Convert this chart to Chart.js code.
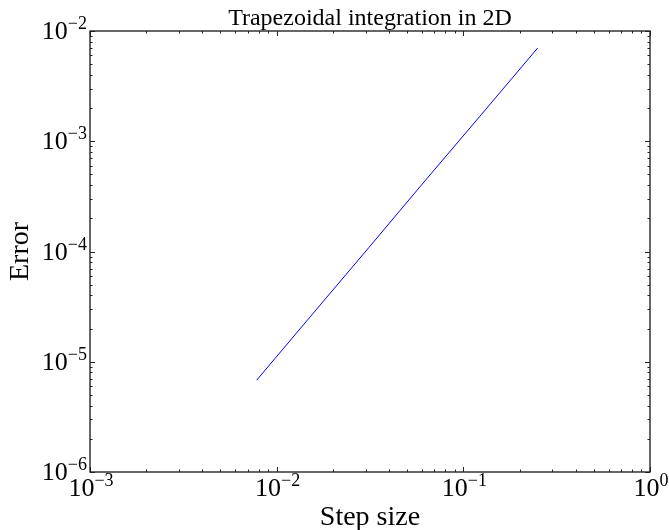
<!DOCTYPE html>
<html>
<head>
<meta charset="utf-8">
<script src="https://cdn.jsdelivr.net/npm/chart.js@4"></script>
<style>
  body { margin: 0; background: #fff; }
  canvas { display: block; }
</style>
</head>
<body>
<canvas id="errChart" width="669" height="530"></canvas>
<script>
const stepSizes = [0.25, 0.125, 0.0625, 0.03125, 0.015625, 0.0078125];
const errors = [7.0e-3, 1.75e-3, 4.4e-4, 1.09e-4, 2.73e-5, 6.8e-6];
const xTickExps = [-3, -2, -1, 0];
const yTickExps = [-6, -5, -4, -3, -2];

const serif = '"Liberation Serif", "DejaVu Serif", serif';

function powLabel(ctx, exp, x, y, align) {
    // "10" with a raised exponent; align 'center' or 'right'
    var base = '10';
    var sup = (exp < 0 ? '\u2212' : '') + Math.abs(exp);
    ctx.font = '26px ' + serif;
    var wb = ctx.measureText(base).width;
    ctx.font = '18px ' + serif;
    var ws = ctx.measureText(sup).width;
    var left = align === 'right' ? x - wb - ws : x - (wb + ws) / 2;
    ctx.textAlign = 'left';
    ctx.textBaseline = 'alphabetic';
    ctx.font = '26px ' + serif;
    ctx.fillText(base, left, y);
    ctx.font = '18px ' + serif;
    ctx.fillText(sup, left + wb, y - 10);
}

const framePlugin = {
    id: 'frame',
    afterDraw(chart) {
        var ctx = chart.ctx;
        var a = chart.chartArea;
        var xs = chart.scales.x, ys = chart.scales.y;
        ctx.save();
        ctx.strokeStyle = '#000';
        ctx.lineWidth = 1.2;
        ctx.strokeRect(a.left, a.top, a.right - a.left, a.bottom - a.top);

        // inward ticks on all four sides
        ctx.lineWidth = 1;
        ctx.strokeStyle = '#222';
        ctx.beginPath();
        for (var e = -3; e <= 0; e++) {
            for (var m = 1; m <= 9; m++) {
                var v = m * Math.pow(10, e);
                if (v > 1.0001) break;
                var px = Math.round(xs.getPixelForValue(v)) + 0.5;
                var len = m === 1 ? 5 : 2.5;
                ctx.moveTo(px, a.bottom); ctx.lineTo(px, a.bottom - len);
                ctx.moveTo(px, a.top); ctx.lineTo(px, a.top + len);
            }
        }
        for (var e = -6; e <= -2; e++) {
            for (var m = 1; m <= 9; m++) {
                var v = m * Math.pow(10, e);
                if (v > 1.0001e-2) break;
                var py = Math.round(ys.getPixelForValue(v)) + 0.5;
                var len = m === 1 ? 5 : 2.5;
                ctx.moveTo(a.left, py); ctx.lineTo(a.left + len, py);
                ctx.moveTo(a.right, py); ctx.lineTo(a.right - len, py);
            }
        }
        ctx.stroke();

        ctx.fillStyle = '#000';
        xTickExps.forEach(function (e) {
            powLabel(ctx, e, xs.getPixelForValue(Math.pow(10, e)) + 1, a.bottom + 24, 'center');
        });
        yTickExps.forEach(function (e) {
            powLabel(ctx, e, a.left - 3, ys.getPixelForValue(Math.pow(10, e)) + 8, 'right');
        });

        ctx.textAlign = 'center';
        ctx.textBaseline = 'alphabetic';
        ctx.font = '24px ' + serif;
        ctx.fillText('Trapezoidal integration in 2D', (a.left + a.right) / 2, 25);
        ctx.font = '28px ' + serif;
        ctx.fillText('Step size', (a.left + a.right) / 2, 525);
        ctx.translate(28, (a.top + a.bottom) / 2);
        ctx.rotate(-Math.PI / 2);
        ctx.fillText('Error', 0, 0);
        ctx.restore();
    }
};

const ctx = document.getElementById('errChart');

var chartData = {
    datasets: [{
        label: 'Error',
        data: stepSizes.map(function (h, i) { return { x: h, y: errors[i] }; }),
        borderColor: '#0000ff',
        borderWidth: 1,
        pointRadius: 0,
        fill: false,
        tension: 0
    }]
};

var myChart = new Chart(ctx, {
    type: 'line',
    data: chartData,
    options: {
        responsive: false,
        animation: false,
        layout: { padding: { left: 90, top: 31, right: 19, bottom: 58 } },
        plugins: { legend: { display: false }, tooltip: { enabled: false } },
        scales: {
            x: { type: 'logarithmic', min: 1e-3, max: 1, display: false },
            y: { type: 'logarithmic', min: 1e-6, max: 1e-2, display: false }
        }
    },
    plugins: [framePlugin]
});
</script>
</body>
</html>
